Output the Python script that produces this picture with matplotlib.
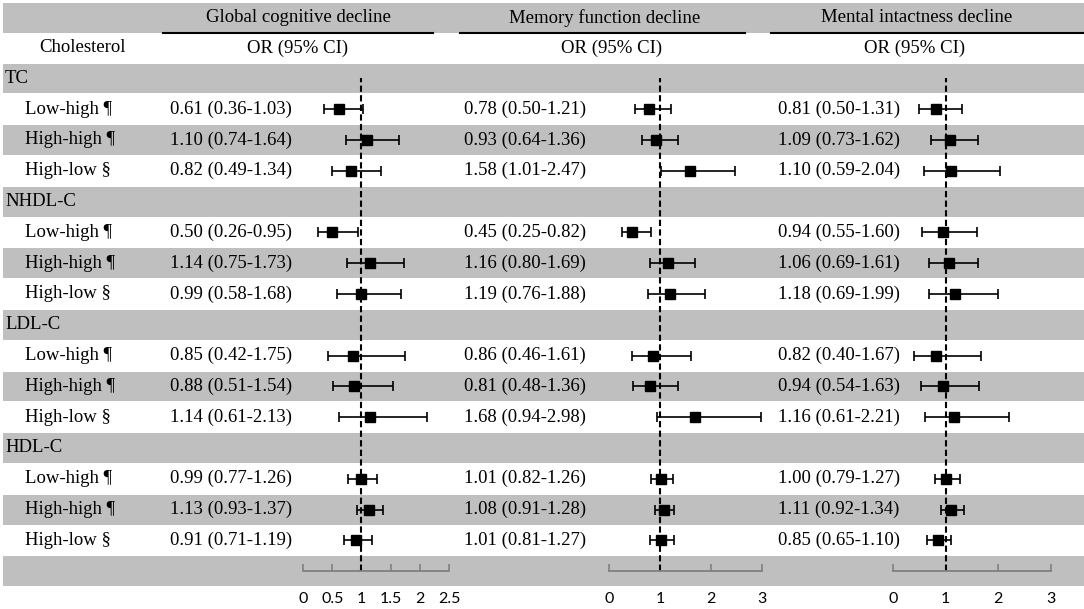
import numpy as np
import matplotlib
matplotlib.use('Agg')
import matplotlib.pyplot as plt
from matplotlib.patches import Rectangle

# Dados
categorias = ['TC', 'NHDL-C', 'LDL-C', 'HDL-C']
subgrupos = ['Low-high ¶', 'High-high ¶', 'High-low §']
desfechos = ['Global cognitive decline', 'Memory function decline', 'Mental intactness decline']

# OR, limite inferior, limite superior (TC, NHDL-C, LDL-C, HDL-C x 3 subgrupos)
or_global = [0.61, 1.10, 0.82, 0.50, 1.14, 0.99, 0.85, 0.88, 1.14, 0.99, 1.13, 0.91]
lo_global = [0.36, 0.74, 0.49, 0.26, 0.75, 0.58, 0.42, 0.51, 0.61, 0.77, 0.93, 0.71]
hi_global = [1.03, 1.64, 1.34, 0.95, 1.73, 1.68, 1.75, 1.54, 2.13, 1.26, 1.37, 1.19]

or_memoria = [0.78, 0.93, 1.58, 0.45, 1.16, 1.19, 0.86, 0.81, 1.68, 1.01, 1.08, 1.01]
lo_memoria = [0.50, 0.64, 1.01, 0.25, 0.80, 0.76, 0.46, 0.48, 0.94, 0.82, 0.91, 0.81]
hi_memoria = [1.21, 1.36, 2.47, 0.82, 1.69, 1.88, 1.61, 1.36, 2.98, 1.26, 1.28, 1.27]

or_mental = [0.81, 1.09, 1.10, 0.94, 1.06, 1.18, 0.82, 0.94, 1.16, 1.00, 1.11, 0.85]
lo_mental = [0.50, 0.73, 0.59, 0.55, 0.69, 0.69, 0.40, 0.54, 0.61, 0.79, 0.92, 0.65]
hi_mental = [1.31, 1.62, 2.04, 1.60, 1.61, 1.99, 1.67, 1.63, 2.21, 1.27, 1.34, 1.10]

ticks_global = [0, 0.5, 1, 1.5, 2, 2.5]
ticks_outros = [0, 1, 2, 3]

# Layout em pixels
W, H = 1084, 609
topo = 63
alt = 30.8
cinza = '#BFBFBF'
serif = 'Liberation Serif'
fs = 13.5

fig = plt.figure(figsize=(W / 100, H / 100), dpi=100)
bg = fig.add_axes([0, 0, 1, 1])
bg.set_xlim(0, W)
bg.set_ylim(H, 0)
bg.axis('off')


def yc(r):
    return topo + alt * (r + 0.5)


# Faixa do titulo
bg.add_patch(Rectangle((3, 3), W - 3, 30, color=cinza, lw=0))
for x0, x1 in [(163, 433), (460, 745), (771, 1084)]:
    bg.plot([x0, x1], [32.5, 32.5], color='black', lw=1.5)

centros_titulo = [298, 605, 917]
centros_or = [298, 612, 915]
for t, cx in zip(desfechos, centros_titulo):
    bg.text(cx, 18, t, ha='center', va='center', fontsize=fs, family=serif)
for cx in centros_or:
    bg.text(cx, 48, 'OR (95% CI)', ha='center', va='center', fontsize=fs, family=serif)
bg.text(83, 48, 'Cholesterol', ha='center', va='center', fontsize=fs, family=serif)

# Linhas da tabela
linhas_dados = []
r = 0
for cat in categorias:
    bg.add_patch(Rectangle((3, topo + alt * r + 0.5), W - 3, alt - 1, color=cinza, lw=0))
    bg.text(5, yc(r), cat, ha='left', va='center', fontsize=fs, family=serif)
    r += 1
    for j, sg in enumerate(subgrupos):
        if j == 1:
            bg.add_patch(Rectangle((3, topo + alt * r + 0.5), W - 3, alt - 1, color=cinza, lw=0))
        bg.text(25, yc(r), sg, ha='left', va='center', fontsize=fs, family=serif)
        linhas_dados.append(r)
        r += 1
# linha do eixo
bg.add_patch(Rectangle((3, topo + alt * r + 0.5), W - 3, alt - 1, color=cinza, lw=0))
r_eixo = r

paineis = [
    (or_global, lo_global, hi_global, 170, (303, 449), (0, 2.5), ticks_global),
    (or_memoria, lo_memoria, hi_memoria, 464, (609, 762), (0, 3), ticks_outros),
    (or_mental, lo_mental, hi_mental, 778, (893, 1051), (0, 3), ticks_outros),
]

y_top = yc(0)
y_bot = yc(r_eixo)
for ors, los, his, xt, (px0, px1), xlim, ticks in paineis:
    for k, rr in enumerate(linhas_dados):
        txt = '%.2f (%.2f-%.2f)' % (ors[k], los[k], his[k])
        bg.text(xt, yc(rr), txt, ha='left', va='center', fontsize=fs, family=serif)

    ax = fig.add_axes([px0 / W, 1 - y_bot / H, (px1 - px0) / W, (y_bot - y_top) / H])
    ax.patch.set_alpha(0)
    ax.set_xlim(*xlim)
    ax.set_ylim(r_eixo, 0)
    ors = np.array(ors)
    erro = [ors - np.array(los), np.array(his) - ors]
    ax.errorbar(ors, linhas_dados, xerr=erro, fmt='s', color='black', ms=7,
                elinewidth=1.2, capsize=3.8, capthick=1.2, clip_on=False)
    ax.axvline(1, color='black', lw=1.5, ls=(0, (3, 1.6)))
    for s in ['top', 'left', 'right']:
        ax.spines[s].set_visible(False)
    ax.spines['bottom'].set_color('#808080')
    ax.spines['bottom'].set_linewidth(1.3)
    ax.set_yticks([])
    ax.set_xticks(ticks)
    ax.set_xticklabels([('%g' % t) for t in ticks], family='Lato', fontsize=11.5)
    ax.tick_params(axis='x', direction='in', length=5, width=1.2, color='#808080', pad=15)

fig.savefig('out.png', dpi=100)
